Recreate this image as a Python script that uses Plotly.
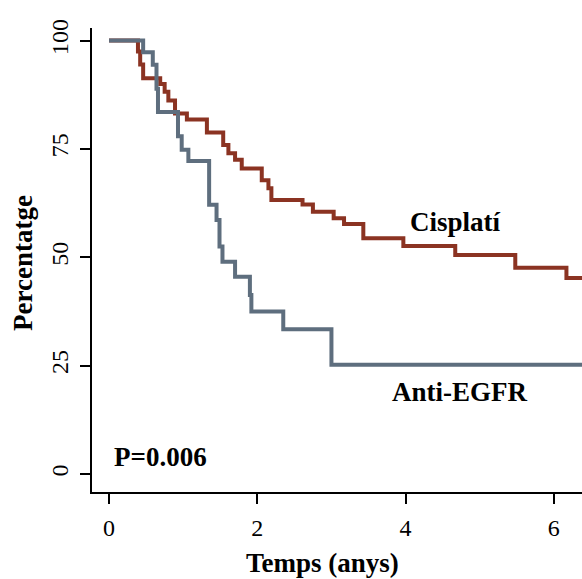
import plotly.graph_objects as go

# Kaplan-Meier step data (time in years, percentage surviving)
cis_t = [0, 0.39, 0.42, 0.46, 0.69, 0.75, 0.80, 0.89, 1.05, 1.32, 1.54, 1.61, 1.70, 1.79,
         2.06, 2.15, 2.19, 2.61, 2.75, 3.03, 3.17, 3.43, 3.97, 4.67, 5.48, 6.17, 6.40]
cis_v = [100, 97.5, 94.5, 91.3, 90.0, 88.2, 86.2, 83.2, 81.8, 78.8, 75.9, 74.0, 72.5, 70.5,
         67.8, 65.9, 63.2, 62.2, 60.5, 59.0, 57.7, 54.4, 52.6, 50.5, 47.6, 45.2, 45.2]

egfr_t = [0, 0.46, 0.59, 0.64, 0.66, 0.93, 0.98, 1.07, 1.35, 1.45, 1.49, 1.53, 1.70,
          1.90, 1.92, 2.35, 3.00, 6.40]
egfr_v = [100, 97.3, 94.4, 88.9, 83.5, 77.9, 74.8, 72.2, 62.1, 58.6, 52.5, 49.0, 45.5,
          41.3, 37.5, 33.4, 25.2, 25.2]

x_ticks = [0, 2, 4, 6]
y_ticks = [0, 25, 50, 75, 100]

RED = "#8B3322"
GRAY = "#5E6E7E"
FONT = "Liberation Serif"

fig = go.Figure()
fig.add_trace(go.Scatter(x=cis_t, y=cis_v, mode="lines", line=dict(shape="hv", color=RED, width=4),
                         name="Cisplatí", showlegend=False))
fig.add_trace(go.Scatter(x=egfr_t, y=egfr_v, mode="lines", line=dict(shape="hv", color=GRAY, width=4),
                         name="Anti-EGFR", showlegend=False))

fig.add_annotation(x=4.67, y=58.2, text="<b>Cisplatí</b>", showarrow=False,
                   font=dict(family=FONT, size=27, color="black"))
fig.add_annotation(x=4.74, y=18.9, text="<b>Anti-EGFR</b>", showarrow=False,
                   font=dict(family=FONT, size=27, color="black"))
fig.add_annotation(x=0.046, y=4.0, text="<b>P=0.006</b>", showarrow=False, xanchor="left",
                   font=dict(family=FONT, size=27, color="black"))

# axis titles
fig.add_annotation(xref="paper", yref="paper", x=-0.1408, y=0.4935, text="<b>Percentatge</b>",
                   textangle=-90, showarrow=False, xanchor="center", yanchor="middle",
                   font=dict(family=FONT, size=27, color="black"))
fig.add_annotation(xref="paper", yref="paper", x=0.4714, y=-0.153, text="<b>Temps (anys)</b>",
                   showarrow=False, xanchor="center", yanchor="middle",
                   font=dict(family=FONT, size=27, color="black"))

fig.update_layout(
    width=582, height=579,
    margin=dict(l=92, r=0, t=28, b=87, autoexpand=False),
    plot_bgcolor="white", paper_bgcolor="white",
    font=dict(family=FONT, color="black"),
    xaxis=dict(range=[-0.23, 6.38], tickvals=x_ticks, ticks="outside", ticklen=10, tickwidth=1.5,
               tickcolor="black", showline=True, linecolor="black", linewidth=2, showgrid=False,
               zeroline=False, tickfont=dict(size=24), ticklabelstandoff=3, automargin=False),
    yaxis=dict(range=[-4.15, 102.9], tickvals=y_ticks, ticks="outside", ticklen=10, tickwidth=1.5,
               tickcolor="black", showline=True, linecolor="black", linewidth=2, showgrid=False,
               zeroline=False, tickfont=dict(size=24), tickangle=-90, ticklabelstandoff=2,
               automargin=False),
)

fig.write_html("out.html", config={"displayModeBar": False},
               post_script="document.body.style.margin='0';document.body.style.overflow='hidden';")
